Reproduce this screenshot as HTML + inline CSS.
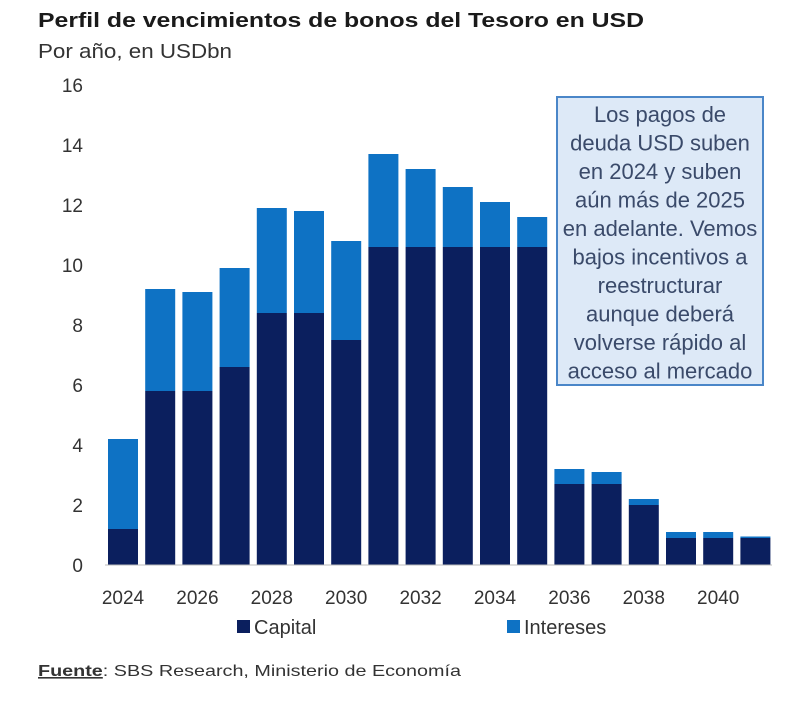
<!DOCTYPE html>
<html><head><meta charset="utf-8"><style>
body{margin:0;background:#fff;width:800px;height:711px;overflow:hidden;font-family:"Liberation Sans",sans-serif}
</style></head><body>
<svg width="800" height="711" xmlns="http://www.w3.org/2000/svg">
<text x="38" y="27" font-size="20" font-weight="bold" fill="#1a1a1a" textLength="606" lengthAdjust="spacingAndGlyphs">Perfil de vencimientos de bonos del Tesoro en USD</text>
<text x="38" y="58" font-size="20" fill="#333" textLength="194" lengthAdjust="spacingAndGlyphs">Por año, en USDbn</text>
<g id="yaxis"></g>
<g id="bars"></g>
<g id="xaxis"></g>
<line x1="105" y1="565" x2="772" y2="565" stroke="#bbb" stroke-width="1"/>
<g>
<rect x="557" y="97" width="206" height="288" fill="#dde9f7" stroke="#4a86c8" stroke-width="2"/>
<text font-size="22" fill="#3a4a6a" text-anchor="middle" id="note"></text>
</g>
<g><rect x="237" y="620" width="13" height="13" fill="#0b1f5e"/><text x="254" y="634" font-size="20" fill="#333">Capital</text></g>
<g><rect x="507" y="620" width="13" height="13" fill="#0e72c4"/><text x="524" y="634" font-size="20" fill="#333">Intereses</text></g>
<text x="38" y="676" font-size="16" fill="#333" textLength="423" lengthAdjust="spacingAndGlyphs"><tspan font-weight="bold" text-decoration="underline">Fuente</tspan>: SBS Research, Ministerio de Economía</text>
</svg>
<script>
const years=[2024,2025,2026,2027,2028,2029,2030,2031,2032,2033,2034,2035,2036,2037,2038,2039,2040,2041];
const capital=[1.2,5.8,5.8,6.6,8.4,8.4,7.5,10.6,10.6,10.6,10.6,10.6,2.7,2.7,2.0,0.9,0.9,0.9];
const totals=[4.2,9.2,9.1,9.9,11.9,11.8,10.8,13.7,13.2,12.6,12.1,11.6,3.2,3.1,2.2,1.1,1.1,0.95];
const yTicks=[0,2,4,6,8,10,12,14,16];
const noteLines=["Los pagos de","deuda USD suben","en 2024 y suben","aún más de 2025","en adelante. Vemos","bajos incentivos a","reestructurar","aunque deberá","volverse rápido al","acceso al mercado"];
const NS="http://www.w3.org/2000/svg";
const y=v=>565-v*30, x=i=>123+i*37.2, bw=30;
function mk(t,a,p){const e=document.createElementNS(NS,t);for(const k in a)e.setAttribute(k,a[k]);p.appendChild(e);return e;}
const ya=document.getElementById('yaxis');
yTicks.forEach(t=>{const e=mk('text',{x:83,y:y(t)+7,'font-size':19,fill:'#333','text-anchor':'end'},ya);e.textContent=t;

});
const bg=document.getElementById('bars');
years.forEach((yr,i)=>{
const c=mk('rect',{x:x(i)-bw/2,y:y(capital[i]),width:bw,height:capital[i]*30,fill:'#0b1f5e'},bg);


const r=mk('rect',{x:x(i)-bw/2,y:y(totals[i]),width:bw,height:(totals[i]-capital[i])*30,fill:'#0e72c4'},bg);


if(yr%2===0){const t=mk('text',{x:x(i),y:604,'font-size':19,fill:'#333','text-anchor':'middle'},document.getElementById('xaxis'));t.textContent=yr;

}
});
const note=document.getElementById('note');
noteLines.forEach((l,i)=>{const s=mk('tspan',{x:660,y:122+i*28.5},note);s.textContent=l;});
</script>
</body></html>
